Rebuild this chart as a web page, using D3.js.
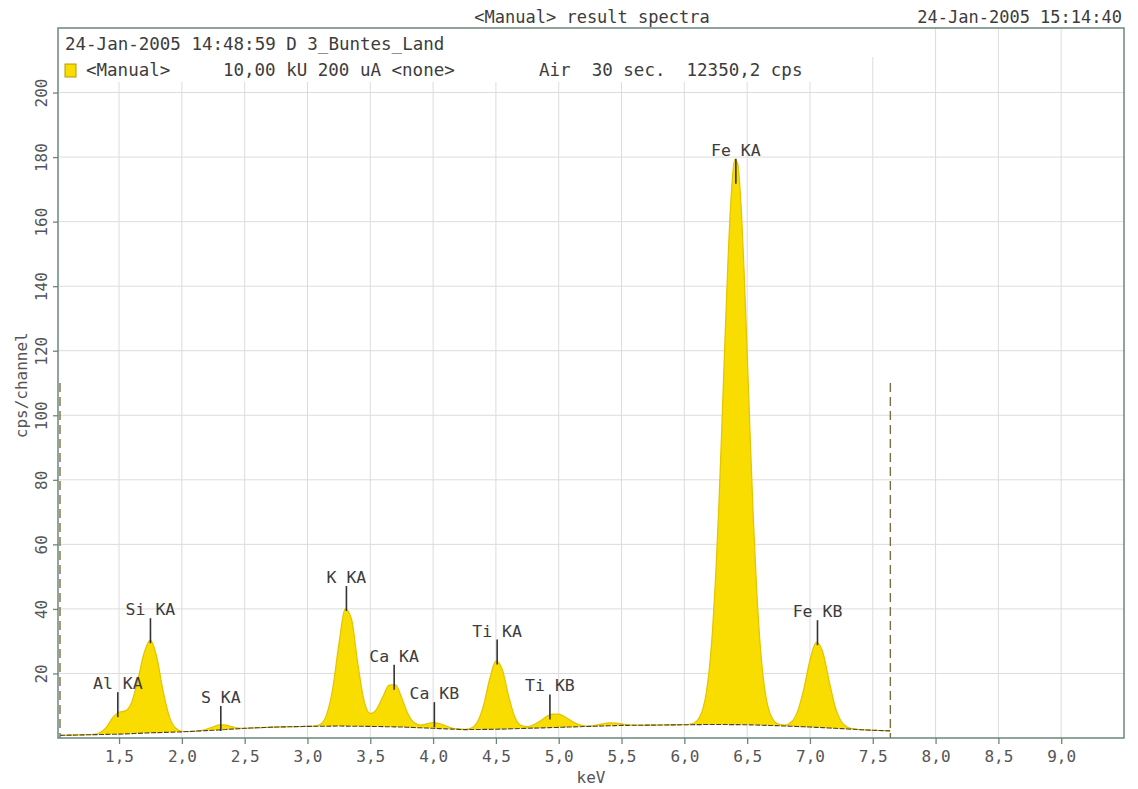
<!DOCTYPE html>
<html>
<head>
<meta charset="utf-8">
<script src="https://cdn.jsdelivr.net/npm/d3@7/dist/d3.min.js"></script>
<style>
  body { margin: 0; background: #fff; }
  text { font-family: "DejaVu Sans Mono", "Liberation Mono", monospace; }
</style>
</head>
<body>
<svg id="chart" width="1138" height="789"></svg>
<script>
// XRF spectrum: energy channel (keV) and counts (cps/channel)
const energyKeV = [
  1.03, 1.05, 1.10, 1.15, 1.20, 1.25, 1.30, 1.35, 1.40, 1.45,
  1.50, 1.55, 1.60, 1.65, 1.70, 1.75, 1.80, 1.85, 1.90, 1.95,
  2.00, 2.05, 2.10, 2.15, 2.20, 2.25, 2.30, 2.35, 2.40, 2.45,
  2.50, 2.55, 2.60, 2.65, 2.70, 2.75, 2.80, 2.85, 2.90, 2.95,
  3.00, 3.05, 3.10, 3.15, 3.20, 3.25, 3.30, 3.35, 3.40, 3.45,
  3.50, 3.55, 3.60, 3.65, 3.70, 3.75, 3.80, 3.85, 3.90, 3.95,
  4.00, 4.05, 4.10, 4.15, 4.20, 4.25, 4.30, 4.35, 4.40, 4.45,
  4.50, 4.55, 4.60, 4.65, 4.70, 4.75, 4.80, 4.85, 4.90, 4.95,
  5.00, 5.05, 5.10, 5.15, 5.20, 5.25, 5.30, 5.35, 5.40, 5.45,
  5.50, 5.55, 5.60, 5.65, 5.70, 5.75, 5.80, 5.85, 5.90, 5.95,
  6.00, 6.05, 6.10, 6.125, 6.15, 6.175, 6.20, 6.225, 6.25, 6.275,
  6.30, 6.325, 6.35, 6.375, 6.40, 6.425, 6.45, 6.475, 6.50, 6.525,
  6.55, 6.575, 6.60, 6.625, 6.65, 6.675, 6.70, 6.725, 6.75, 6.80,
  6.85, 6.90, 6.95, 7.00, 7.05, 7.10, 7.15, 7.20, 7.25, 7.30,
  7.35, 7.40, 7.45, 7.50, 7.55, 7.60, 7.64
];
const countsCps = [
  0.82, 0.84, 0.88, 0.92, 0.96, 1.0, 1.1, 1.7, 3.4, 6.3,
  8.0, 8.4, 11.0, 18.1, 26.4, 30.3, 25.1, 14.7, 6.7, 3.1,
  2.1, 2.0, 2.1, 2.3, 2.8, 3.5, 4.1, 4.0, 3.5, 3.1,
  3.0, 3.1, 3.2, 3.25, 3.3, 3.4, 3.45, 3.5, 3.5, 3.55,
  3.6, 3.7, 4.2, 7.0, 15.1, 29.1, 40.0, 36.9, 23.2, 11.6,
  7.6, 8.9, 12.8, 16.4, 16.5, 12.5, 7.5, 4.7, 4.0, 4.4,
  4.8, 4.5, 3.8, 3.1, 2.8, 2.65, 3.0, 4.8, 9.9, 18.2,
  23.8, 21.3, 13.2, 6.6, 3.9, 3.5, 4.1, 5.2, 6.6, 7.4,
  7.4, 6.5, 5.3, 4.3, 3.8, 3.7, 4.0, 4.4, 4.7, 4.6,
  4.4, 4.1, 4.0, 3.96, 3.98, 4.0, 4.02, 4.04, 4.06, 4.1,
  4.1, 4.3, 5.3, 6.7, 9.4, 14.1, 21.9, 33.8, 50.6, 72.3,
  98.0, 125.1, 150.2, 169.3, 179.2, 178.0, 166.0, 145.3, 119.5, 92.5,
  67.5, 46.6, 30.9, 19.8, 12.7, 8.4, 6.1, 4.8, 4.3, 4.0,
  4.9, 8.1, 15.0, 24.1, 29.6, 26.9, 18.2, 9.8, 5.1, 3.3,
  2.8, 2.6, 2.5, 2.4, 2.33, 2.26, 2.2
];

// Fitted background under the peaks
const backgroundKeV = [1.03, 1.25, 1.5, 1.75, 2.0, 2.25, 2.5, 2.75, 3.0, 3.25, 3.5, 3.75, 4.0, 4.25,
  4.5, 4.75, 5.0, 5.25, 5.5, 5.75, 6.0, 6.25, 6.5, 6.75, 7.0, 7.25, 7.5, 7.64];
const backgroundCps = [0.82, 1.0, 1.2, 1.6, 1.9, 2.4, 3.0, 3.4, 3.6, 3.7, 3.6, 3.4, 3.0, 2.6,
  2.7, 3.0, 3.3, 3.6, 3.9, 4.0, 4.1, 4.2, 4.1, 3.8, 3.4, 2.9, 2.4, 2.2];

// Identified lines
const lineNames = ["Al KA", "Si KA", "S KA", "K KA", "Ca KA", "Ca KB", "Ti KA", "Ti KB", "Fe KA", "Fe KB"];
const lineKeV   = [1.49, 1.75, 2.31, 3.31, 3.69, 4.01, 4.51, 4.93, 6.41, 7.06];
const lineCps   = [7.7, 30.6, 3.4, 40.6, 16.2, 4.6, 24.0, 7.0, 173, 30.0];

// Region of interest limits
const roiKeV = [1.03, 7.64];
const roiMarkerCps = 110;

// Axis ticks
const xTickValues = [1.5, 2.0, 2.5, 3.0, 3.5, 4.0, 4.5, 5.0, 5.5, 6.0, 6.5, 7.0, 7.5, 8.0, 8.5, 9.0];
const yTickValues = [20, 40, 60, 80, 100, 120, 140, 160, 180, 200];

// Header texts (fixed-width columns)
const titleText = "<Manual> result spectra";
const printDate = "24-Jan-2005 15:14:40";
const sampleText = "24-Jan-2005 14:48:59 D 3_Buntes_Land";
const conditionText = "<Manual>     10,00 kU 200 uA <none>        Air  30 sec.  12350,2 cps";

const svg = d3.select("#chart");
const plotL = 58, plotR = 1124, plotT = 28, plotB = 738;

const x = d3.scaleLinear().domain([1.014, 9.5]).range([plotL, plotR]);
const y = d3.scaleLinear().domain([0, 220]).range([plotB, plotT]);
const bg = d3.scaleLinear().domain(backgroundKeV).range(backgroundCps);

const spectrum = energyKeV.map((e, i) => ({ e, c: countsCps[i] }));

const gridColor = "#dcdcdc";
const frameColor = "#6b8679";
const textColor = "#3c3c3c";

// Grid
const grid = svg.append("g");
grid.selectAll("line.v").data(xTickValues).join("line")
  .attr("x1", d => x(d)).attr("x2", d => x(d))
  .attr("y1", plotT).attr("y2", plotB)
  .attr("stroke", gridColor).attr("stroke-width", 1);
grid.selectAll("line.h").data(yTickValues).join("line")
  .attr("x1", plotL).attr("x2", plotR)
  .attr("y1", d => y(d)).attr("y2", d => y(d))
  .attr("stroke", gridColor).attr("stroke-width", 1);

// Header panel inside the frame
svg.append("rect").attr("x", plotL + 1).attr("y", plotT + 1).attr("width", 822).attr("height", 28).attr("fill", "#fff");
svg.append("rect").attr("x", plotL + 1).attr("y", plotT + 29).attr("width", 757).attr("height", 25).attr("fill", "#fff");

// Peak area above background
const area = d3.area()
  .x(d => x(d.e))
  .y0(d => y(bg(d.e)))
  .y1(d => y(d.c))
  .curve(d3.curveMonotoneX);
svg.append("path").datum(spectrum).attr("d", area).attr("fill", "#f9dc00");

svg.append("path").datum(spectrum)
  .attr("d", d3.line().x(d => x(d.e)).y(d => y(d.c)).curve(d3.curveMonotoneX))
  .attr("fill", "none").attr("stroke", "#e2c400").attr("stroke-width", 1.2);

svg.append("path").datum(spectrum)
  .attr("d", d3.line().x(d => x(d.e)).y(d => y(bg(d.e))).curve(d3.curveMonotoneX))
  .attr("fill", "none").attr("stroke", "#4a4230").attr("stroke-width", 1.1)
  .attr("stroke-dasharray", "5,1.5");

// ROI markers
svg.selectAll("line.roi").data(roiKeV).join("line")
  .attr("x1", d => x(d)).attr("x2", d => x(d))
  .attr("y1", y(roiMarkerCps)).attr("y2", y(0))
  .attr("stroke", "#7d6e45").attr("stroke-width", 1.4)
  .attr("stroke-dasharray", "9,5");

// Frame
svg.append("rect").attr("x", plotL).attr("y", plotT).attr("width", plotR - plotL).attr("height", plotB - plotT)
  .attr("fill", "none").attr("stroke", frameColor).attr("stroke-width", 1.5);

// Axes
const fmt = d => d3.format(".1f")(d).replace(".", ",");
const xAxis = svg.append("g").attr("transform", `translate(0,${plotB})`)
  .call(d3.axisBottom(x).tickValues(xTickValues).tickFormat(fmt).tickSize(6).tickPadding(7));
xAxis.select(".domain").remove();
xAxis.selectAll("line").attr("stroke", frameColor).attr("stroke-width", 1.3);
xAxis.selectAll("text").attr("fill", "#555").attr("font-size", 16)
  .attr("font-family", "'DejaVu Sans Mono', monospace");

const yAxis = svg.append("g").attr("transform", `translate(${plotL},0)`)
  .call(d3.axisLeft(y).tickValues(yTickValues).tickSize(5));
yAxis.select(".domain").remove();
yAxis.selectAll("line").attr("stroke", frameColor).attr("stroke-width", 1.3);
yAxis.selectAll("text")
  .attr("transform", "rotate(-90)")
  .attr("x", 0).attr("y", -11).attr("dy", 0)
  .attr("text-anchor", "middle")
  .attr("fill", "#555").attr("font-size", 16)
  .attr("font-family", "'DejaVu Sans Mono', monospace");

// Axis titles
svg.append("text").attr("x", (plotL + plotR) / 2).attr("y", 783)
  .attr("text-anchor", "middle").attr("font-size", 16).attr("fill", "#555").text("keV");
svg.append("text").attr("transform", `translate(27,${(y(80) + y(120)) / 2 - 30}) rotate(-90)`)
  .attr("text-anchor", "middle").attr("font-size", 16).attr("fill", "#555").text("cps/channel");

// Line markers and labels
const marks = svg.append("g");
lineNames.forEach((name, i) => {
  const px = x(lineKeV[i]);
  const py = y(lineCps[i]);
  marks.append("line").attr("x1", px).attr("x2", px).attr("y1", py - 21).attr("y2", py + 4)
    .attr("stroke", "#333").attr("stroke-width", 1.6);
  marks.append("text").attr("x", px).attr("y", py - 24)
    .attr("text-anchor", "middle").attr("font-size", 16.5).attr("fill", textColor)
    .text(name);
});

// Header texts
svg.append("text").attr("x", 592).attr("y", 23).attr("text-anchor", "middle")
  .attr("font-size", 17).attr("fill", textColor).text(titleText);
svg.append("text").attr("x", 1122).attr("y", 23).attr("text-anchor", "end")
  .attr("font-size", 17).attr("fill", textColor).text(printDate);
svg.append("text").attr("x", 65).attr("y", 50)
  .attr("font-size", 17.5).attr("fill", textColor).text(sampleText);

svg.append("rect").attr("x", 65).attr("y", 64).attr("width", 11).attr("height", 13)
  .attr("fill", "#f9dc00").attr("stroke", "#b89c00").attr("stroke-width", 1);
svg.append("text").attr("x", 86).attr("y", 76)
  .attr("xml:space", "preserve").style("white-space", "pre")
  .attr("font-size", 17.5).attr("fill", textColor)
  .text(conditionText);
</script>
</body>
</html>
